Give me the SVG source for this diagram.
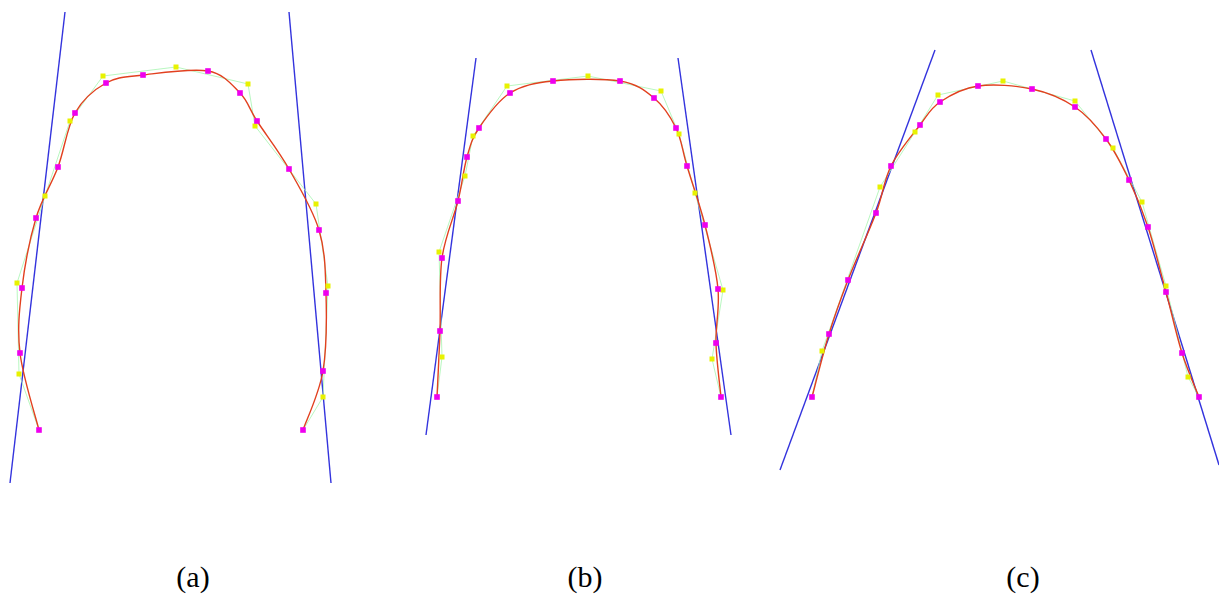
<svg xmlns="http://www.w3.org/2000/svg" xmlns:xlink="http://www.w3.org/1999/xlink" width="1219" height="597" viewBox="0 0 1219 597">
<style>
.bl{stroke:#3333dd;stroke-width:1.4;fill:none}
.gr{stroke:#a6f5b0;stroke-width:1;fill:none;opacity:0.8}
.rd{stroke:#e2401f;stroke-width:1.4;fill:none}
.lbl{font-family:"Liberation Serif","Times New Roman",serif;font-size:30px;fill:#000;text-anchor:middle}
</style>
<defs>
<rect id="y" x="-2.5" y="-2.5" width="5" height="5" fill="#e8f200"/>
<rect id="m" x="-2.8" y="-2.8" width="5.6" height="5.6" fill="#ee00ee"/>
</defs>
<rect width="1219" height="597" fill="#fff"/>

<g id="panel-a">
<line class="bl" x1="65" y1="12" x2="10" y2="483"/>
<line class="bl" x1="289" y1="12" x2="331" y2="483"/>
<polyline class="gr" points="39,430 19,374 17,283 45,196 70,121 103,76 176,67 248,84 255,126 316,204 328,286 323,397 303,430"/>
<path class="rd" d="M39,430 C35.8,417.2 22.8,376.7 20,353 C17.2,329.3 19.3,310.5 22,288 C24.7,265.5 30,238.2 36,218 C42,197.8 51.5,184.5 58,167 C64.5,149.5 67,127 75,113 C83,99 94.7,89.3 106,83 C117.3,76.7 126,77 143,75 C160,73 191.8,68 208,71 C224.2,74 231.8,84.7 240,93 C248.2,101.3 248.8,108.3 257,121 C265.2,133.7 278.7,150.8 289,169 C299.3,187.2 312.8,209.3 319,230 C325.2,250.7 325.3,269.5 326,293 C326.7,316.5 326.8,348.2 323,371 C319.2,393.8 306.3,420.2 303,430"/>
<use xlink:href="#y" x="19" y="374"/><use xlink:href="#y" x="17" y="283"/><use xlink:href="#y" x="45" y="196"/><use xlink:href="#y" x="70" y="121"/><use xlink:href="#y" x="103" y="76"/><use xlink:href="#y" x="176" y="67"/><use xlink:href="#y" x="248" y="84"/><use xlink:href="#y" x="255" y="126"/><use xlink:href="#y" x="316" y="204"/><use xlink:href="#y" x="328" y="286"/><use xlink:href="#y" x="323" y="397"/>
<use xlink:href="#m" x="39" y="430"/><use xlink:href="#m" x="20" y="353"/><use xlink:href="#m" x="22" y="288"/><use xlink:href="#m" x="36" y="218"/><use xlink:href="#m" x="58" y="167"/><use xlink:href="#m" x="75" y="113"/><use xlink:href="#m" x="106" y="83"/><use xlink:href="#m" x="143" y="75"/><use xlink:href="#m" x="208" y="71"/><use xlink:href="#m" x="240" y="93"/><use xlink:href="#m" x="257" y="121"/><use xlink:href="#m" x="289" y="169"/><use xlink:href="#m" x="319" y="230"/><use xlink:href="#m" x="326" y="293"/><use xlink:href="#m" x="323" y="371"/><use xlink:href="#m" x="303" y="430"/>
<text class="lbl" x="193" y="587">(a)</text>
</g>

<g id="panel-b">
<line class="bl" x1="476" y1="58" x2="426" y2="435"/>
<line class="bl" x1="678" y1="58" x2="731" y2="435"/>
<polyline class="gr" points="437,397 442,357 439,252 465,176 473,136 507,86 588,76 661,91 679,134 695,193 723,290 712,359 721,397"/>
<path class="rd" d="M437,397 C437.5,386 439.2,354.2 440,331 C440.8,307.8 439,279.7 442,258 C445,236.3 453.8,217.8 458,201 C462.2,184.2 463.5,169.2 467,157 C470.5,144.8 471.8,138.7 479,128 C486.2,117.3 497.7,100.8 510,93 C522.3,85.2 534.7,83 553,81 C571.3,79 603.2,78.2 620,81 C636.8,83.8 644.7,90.2 654,98 C663.3,105.8 670.5,116.7 676,128 C681.5,139.3 682.2,149.8 687,166 C691.8,182.2 699.8,204.5 705,225 C710.2,245.5 716.2,269.3 718,289 C719.8,308.7 715.5,325 716,343 C716.5,361 720.2,388 721,397"/>
<use xlink:href="#y" x="442" y="357"/><use xlink:href="#y" x="439" y="252"/><use xlink:href="#y" x="465" y="176"/><use xlink:href="#y" x="473" y="136"/><use xlink:href="#y" x="507" y="86"/><use xlink:href="#y" x="588" y="76"/><use xlink:href="#y" x="661" y="91"/><use xlink:href="#y" x="679" y="134"/><use xlink:href="#y" x="695" y="193"/><use xlink:href="#y" x="723" y="290"/><use xlink:href="#y" x="712" y="359"/>
<use xlink:href="#m" x="437" y="397"/><use xlink:href="#m" x="440" y="331"/><use xlink:href="#m" x="442" y="258"/><use xlink:href="#m" x="458" y="201"/><use xlink:href="#m" x="467" y="157"/><use xlink:href="#m" x="479" y="128"/><use xlink:href="#m" x="510" y="93"/><use xlink:href="#m" x="553" y="81"/><use xlink:href="#m" x="620" y="81"/><use xlink:href="#m" x="654" y="98"/><use xlink:href="#m" x="676" y="128"/><use xlink:href="#m" x="687" y="166"/><use xlink:href="#m" x="705" y="225"/><use xlink:href="#m" x="718" y="289"/><use xlink:href="#m" x="716" y="343"/><use xlink:href="#m" x="721" y="397"/>
<text class="lbl" x="585" y="587">(b)</text>
</g>

<g id="panel-c">
<line class="bl" x1="935" y1="50" x2="780" y2="470"/>
<line class="bl" x1="1091" y1="50" x2="1219" y2="465"/>
<polyline class="gr" points="812,397 822,351 880,187 915,132 938,95 1003,81 1075,101 1113,148 1142,202 1166,286 1188,377 1199,397"/>
<path class="rd" d="M812,397 C814.8,386.5 823,353.5 829,334 C835,314.5 840.2,300.2 848,280 C855.8,259.8 868.8,232 876,213 C883.2,194 883.7,180.7 891,166 C898.3,151.3 911.8,135.7 920,125 C928.2,114.3 930.3,108.5 940,102 C949.7,95.5 962.7,88.2 978,86 C993.3,83.8 1015.8,85.5 1032,89 C1048.2,92.5 1062.7,98.7 1075,107 C1087.3,115.3 1097,126.8 1106,139 C1115,151.2 1122,165.3 1129,180 C1136,194.7 1141.8,208.3 1148,227 C1154.2,245.7 1160.3,271 1166,292 C1171.7,313 1176.5,335.5 1182,353 C1187.5,370.5 1196.2,389.7 1199,397"/>
<use xlink:href="#y" x="822" y="351"/><use xlink:href="#y" x="880" y="187"/><use xlink:href="#y" x="915" y="132"/><use xlink:href="#y" x="938" y="95"/><use xlink:href="#y" x="1003" y="81"/><use xlink:href="#y" x="1075" y="101"/><use xlink:href="#y" x="1113" y="148"/><use xlink:href="#y" x="1142" y="202"/><use xlink:href="#y" x="1166" y="286"/><use xlink:href="#y" x="1188" y="377"/>
<use xlink:href="#m" x="812" y="397"/><use xlink:href="#m" x="829" y="334"/><use xlink:href="#m" x="848" y="280"/><use xlink:href="#m" x="876" y="213"/><use xlink:href="#m" x="891" y="166"/><use xlink:href="#m" x="920" y="125"/><use xlink:href="#m" x="940" y="102"/><use xlink:href="#m" x="978" y="86"/><use xlink:href="#m" x="1032" y="89"/><use xlink:href="#m" x="1075" y="107"/><use xlink:href="#m" x="1106" y="139"/><use xlink:href="#m" x="1129" y="180"/><use xlink:href="#m" x="1148" y="227"/><use xlink:href="#m" x="1166" y="292"/><use xlink:href="#m" x="1182" y="353"/><use xlink:href="#m" x="1199" y="397"/>
<text class="lbl" x="1023" y="587">(c)</text>
</g>
</svg>
